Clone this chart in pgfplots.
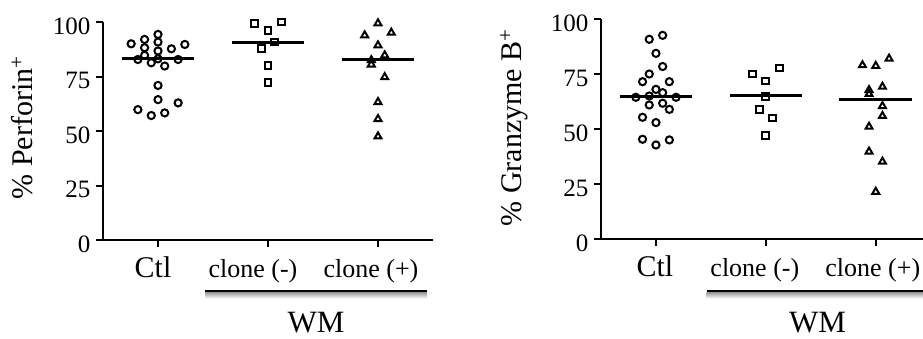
\documentclass[border=0pt]{standalone}
\usepackage{pgfplots}
\pgfplotsset{compat=1.18}
\usepackage{fontspec}
\setmainfont{Liberation Serif}

\pgfplotsset{
  myaxis/.style={
    scale only axis, clip=false,
    axis lines*=left,
    axis line style={line width=2pt,-,black},
    xmin=-0.5, ymin=0, ymax=100,
    xtick={0,1,2}, ytick={0,25,50,75,100},
    tick align=outside, major tick length=7pt,
    every tick/.style={line width=2pt, black},
    xticklabel style={font=\fontsize{26}{26}\selectfont, anchor=base, yshift=-30pt},
    yticklabel style={font=\fontsize{25}{25}\selectfont, yshift=-4pt, xshift=-2pt},
    /pgf/number format/assume math mode=true,
    every axis y label/.style={rotate=90, anchor=center, font=\fontsize{30}{30}\selectfont},
  },
  dots/.style={only marks, black, line width=2pt, mark options={solid, line width=2pt}},
  med/.style={black, line width=3pt, no marks},
}

\begin{document}
\begin{tikzpicture}[x=1pt,y=1pt]
\useasboundingbox (0,0) rectangle (923,338);

% ---------- Perforin ----------
\begin{axis}[myaxis, at={(103pt,98pt)}, anchor=south west,
  width=330pt, height=218pt, xmax=2.5,
  xticklabels={{\fontsize{30}{30}\selectfont Ctl\kern10pt},{clone (-)\kern30pt},{clone (+)\kern14pt}},
  ylabel={\% Perforin\textsuperscript{+}},
  ylabel style={at={(axis description cs:-0.245,0.515)}}]
\addplot[dots, mark=o, mark size=3.6pt] coordinates {
 (0,94.3)(-0.244,90.0)(-0.122,92.0)(0,90.8)(0.244,89.7)(-0.122,88.2)(0,86.7)(0.122,87.7)
 (-0.122,84.7)(-0.183,82.8)(0,83.1)(0.183,82.8)(-0.061,81.3)(0.061,79.8)(0,70.9)(0,64.4)
 (0.183,62.9)(-0.183,59.8)(0.061,58.3)(-0.061,57.1)};
\addplot[dots, mark=square, mark size=3.4pt] coordinates {
 (0.879,99.4)(1.121,100)(1,96.2)(1.061,90.8)(0.939,87.7)(1,80.1)(1,72.1)};
\addplot[dots, mark=triangle, mark size=4pt] coordinates {
 (2,99.4)(1.879,93.9)(2.121,95.1)(2,89.3)(2.061,84.7)(1.939,82.5)(1.939,80.5)(2.061,74.7)
 (2,63.3)(2,55.5)(2,47.5)};
\addplot[med] coordinates {(-0.33,83.1)(0.33,83.1)};
\addplot[med] coordinates {(0.67,90.8)(1.33,90.8)};
\addplot[med] coordinates {(1.67,82.8)(2.33,82.8)};
\end{axis}

% ---------- Granzyme B ----------
\begin{axis}[myaxis, at={(601pt,99pt)}, anchor=south west,
  width=322pt, height=219.7pt, xmax=2.43,
  xticklabels={{\fontsize{30}{30}\selectfont Ctl\kern2pt},{clone (-)\kern22pt},{clone (+)\kern6pt}},
  ylabel={\% Granzyme B\textsuperscript{+}},
  ylabel style={at={(axis description cs:-0.270,0.507)}}]
\addplot[dots, mark=o, mark size=3.6pt] coordinates {
 (-0.061,90.9)(0.061,92.7)(0,84.5)(0.061,78.5)(-0.061,75.1)(-0.122,71.6)(0.122,71.6)(0,68.1)
 (0.061,66.6)(-0.183,64.5)(-0.061,65.1)(0.183,64.5)(-0.061,61.0)(0.061,61.8)(0.122,59.0)
 (-0.122,55.4)(0,53.0)(-0.122,45.4)(0.122,45.1)(0,42.8)};
\addplot[dots, mark=square, mark size=3.4pt] coordinates {
 (0.879,75.1)(1.121,77.8)(1,71.9)(1,64.8)(0.939,59.0)(1.061,55.1)(1,47.2)};
\addplot[dots, mark=triangle, mark size=4pt] coordinates {
 (1.879,79.1)(2,78.8)(2.121,82.1)(1.939,67.8)(1.939,66.0)(2.061,69.3)(2.061,60.5)(2.061,56.0)
 (1.939,51.1)(1.939,39.8)(2.061,35.2)(2,21.5)};
\addplot[med] coordinates {(-0.33,64.8)(0.33,64.8)};
\addplot[med] coordinates {(0.67,65.1)(1.33,65.1)};
\addplot[med] coordinates {(1.67,63.7)(2.33,63.7)};
\end{axis}

% ---------- WM brackets ----------
\shade[top color=black!40, bottom color=white] (205,45.6) rectangle (427,39.5);
\draw[line width=2.5pt] (205,47) -- (427,47);
\node[anchor=base, font=\fontsize{31}{31}\selectfont, inner sep=0pt] at (316,6) {WM};

\shade[top color=black!40, bottom color=white] (706.7,45.6) rectangle (923,39.5);
\draw[line width=2.5pt] (706.7,47) -- (923,47);
\node[anchor=base, font=\fontsize{31}{31}\selectfont, inner sep=0pt] at (817.5,6) {WM};
\end{tikzpicture}
\end{document}
